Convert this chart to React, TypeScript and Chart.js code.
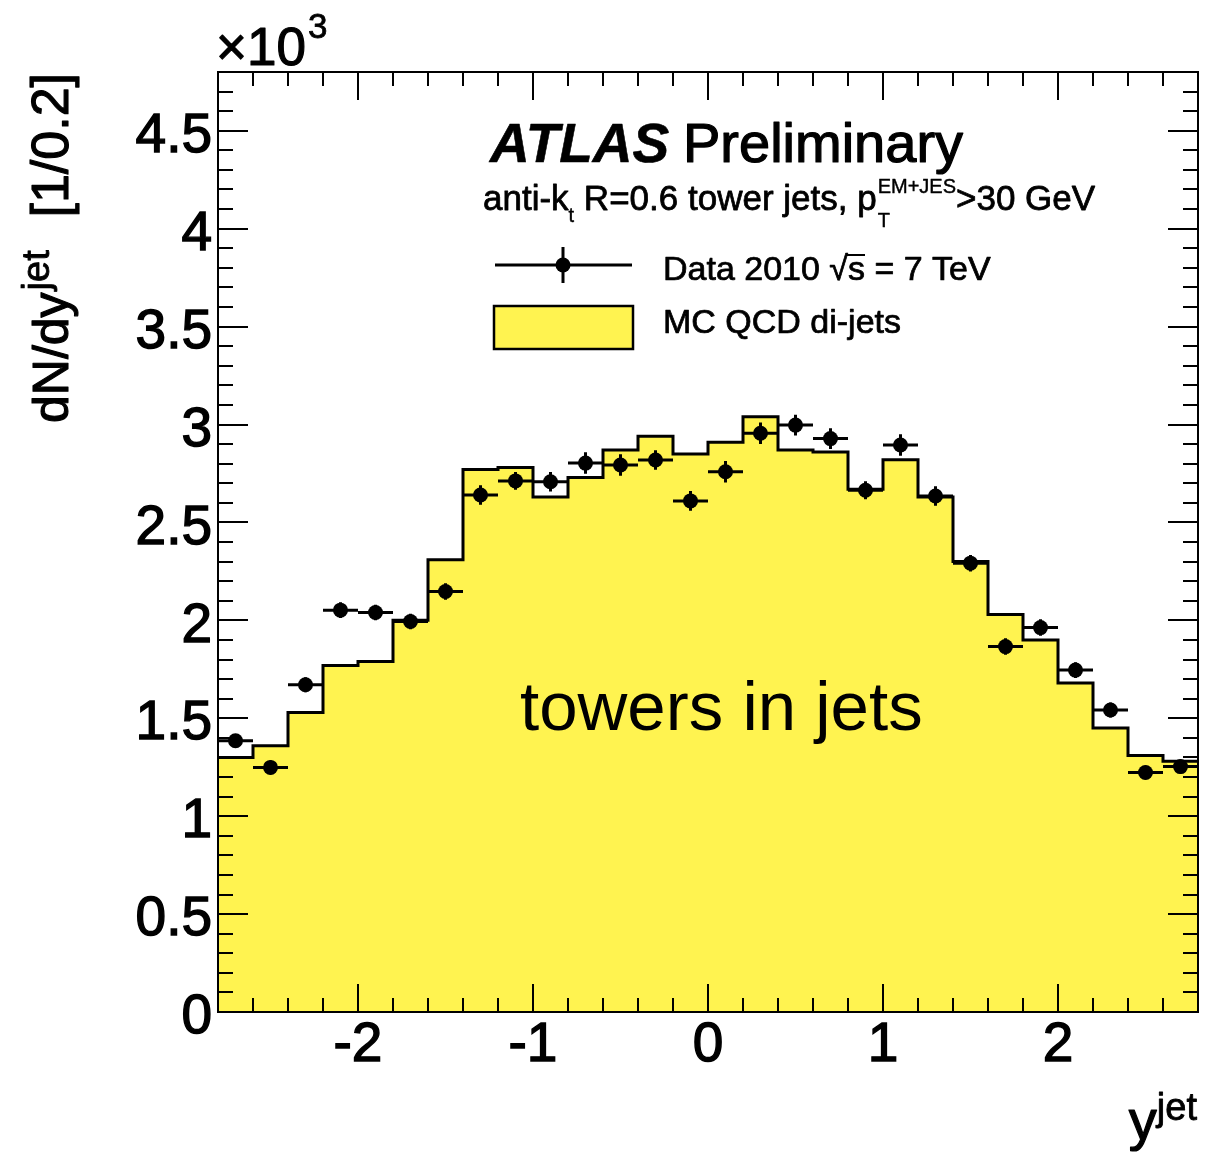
import React, { useEffect, useRef } from "react";
import { Chart, registerables } from "chart.js";

Chart.register(...registerables);

// ---------------- data (values in units of 10^3) ----------------
const BIN_CENTERS = [
  -2.7, -2.5, -2.3, -2.1, -1.9, -1.7, -1.5, -1.3, -1.1, -0.9, -0.7, -0.5, -0.3, -0.1,
  0.1, 0.3, 0.5, 0.7, 0.9, 1.1, 1.3, 1.5, 1.7, 1.9, 2.1, 2.3, 2.5, 2.7,
];
const BIN_HALF_WIDTH = 0.1;

const MC_VALUES = [
  1.30, 1.36, 1.53, 1.77, 1.79, 2.0, 2.31, 2.77, 2.78, 2.63, 2.73, 2.87, 2.94, 2.85,
  2.91, 3.04, 2.87, 2.86, 2.67, 2.82, 2.63, 2.30, 2.03, 1.90, 1.68, 1.45, 1.31, 1.28,
];

const DATA_VALUES = [
  1.385, 1.249, 1.671, 2.052, 2.04, 1.994, 2.147, 2.64, 2.712, 2.708, 2.803, 2.793, 2.819, 2.61,
  2.759, 2.955, 2.997, 2.928, 2.664, 2.895, 2.635, 2.292, 1.866, 1.963, 1.746, 1.542, 1.223, 1.253,
];

const DATA_ERRORS = [
  0.035, 0.035, 0.038, 0.04, 0.04, 0.04, 0.042, 0.05, 0.045, 0.05, 0.055, 0.055, 0.05, 0.05,
  0.055, 0.055, 0.053, 0.053, 0.046, 0.055, 0.05, 0.042, 0.042, 0.042, 0.04, 0.038, 0.035, 0.035,
];

const X_TICKS = [-2, -1, 0, 1, 2];
const Y_TICKS = [0, 0.5, 1, 1.5, 2, 2.5, 3, 3.5, 4, 4.5];
const X_MIN = -2.8;
const X_MAX = 2.8;
const Y_MIN = 0;
const Y_MAX = 4.8;
const X_MINOR_STEP = 0.2;
const Y_MINOR_STEP = 0.1;

// ---------------- layout / style ----------------
const W = 1214;
const H = 1153;
const FRAME = { left: 218, top: 72, right: 1198, bottom: 1012 };
const YELLOW = "#FFF350";
const FAMILY = "'Liberation Sans', Arial, Helvetica, sans-serif";
const font = (size: number, style = "") => `${style} ${size}px ${FAMILY}`.trim();

// draws text (filled + thin outline to mimic the heavier rendering); returns the end x
function run(
  ctx: CanvasRenderingContext2D,
  text: string,
  x: number,
  y: number,
  size: number,
  style = "",
  strokeFactor = 0.022
) {
  ctx.font = font(size, style);
  ctx.fillText(text, x, y);
  if (strokeFactor > 0) {
    ctx.save();
    ctx.lineWidth = size * strokeFactor;
    ctx.lineJoin = "round";
    ctx.strokeText(text, x, y);
    ctx.restore();
  }
  return x + ctx.measureText(text).width;
}

const frameAndTicks = {
  id: "frameAndTicks",
  afterDatasetsDraw(chart: any) {
    const { ctx, chartArea: a, scales } = chart;
    const xs = scales.x;
    const ys = scales.y;
    ctx.save();
    ctx.strokeStyle = "#000";
    ctx.lineCap = "butt";

    // error bars of data
    ctx.lineWidth = 3;
    ctx.beginPath();
    DATA_VALUES.forEach((v, i) => {
      const c = BIN_CENTERS[i];
      const px = xs.getPixelForValue(c);
      const py = ys.getPixelForValue(v);
      ctx.moveTo(xs.getPixelForValue(c - BIN_HALF_WIDTH), py);
      ctx.lineTo(xs.getPixelForValue(c + BIN_HALF_WIDTH), py);
      ctx.moveTo(px, ys.getPixelForValue(v - DATA_ERRORS[i]));
      ctx.lineTo(px, ys.getPixelForValue(v + DATA_ERRORS[i]));
    });
    ctx.stroke();

    // ticks on all four sides, pointing inwards
    ctx.lineWidth = 2;
    ctx.beginPath();
    const nx = Math.round((X_MAX - X_MIN) / X_MINOR_STEP);
    for (let k = 1; k < nx; k++) {
      const v = X_MIN + k * X_MINOR_STEP;
      const major = Math.abs(v - Math.round(v)) < 1e-6;
      const len = major ? 28 : 14;
      const px = Math.round(xs.getPixelForValue(v));
      ctx.moveTo(px, a.bottom);
      ctx.lineTo(px, a.bottom - len);
      ctx.moveTo(px, a.top);
      ctx.lineTo(px, a.top + len);
    }
    const ny = Math.round((Y_MAX - Y_MIN) / Y_MINOR_STEP);
    for (let k = 1; k < ny; k++) {
      const v = Y_MIN + k * Y_MINOR_STEP;
      const major = Math.abs(v * 2 - Math.round(v * 2)) < 1e-6;
      const len = major ? 30 : 15;
      const py = Math.round(ys.getPixelForValue(v));
      ctx.moveTo(a.left, py);
      ctx.lineTo(a.left + len, py);
      ctx.moveTo(a.right, py);
      ctx.lineTo(a.right - len, py);
    }
    ctx.stroke();

    // frame
    ctx.lineWidth = 2;
    ctx.strokeRect(a.left, a.top, a.right - a.left, a.bottom - a.top);
    ctx.restore();
  },
  afterDraw(chart: any) {
    const ctx: CanvasRenderingContext2D = chart.ctx;
    ctx.save();
    ctx.fillStyle = "#000";
    ctx.strokeStyle = "#000";
    ctx.textAlign = "left";
    ctx.textBaseline = "alphabetic";

    // x10^3 multiplier
    let xx = run(ctx, "×10", 216, 65, 53);
    run(ctx, "3", xx + 2, 38, 35);

    // y axis title (rotated, reads bottom to top)
    ctx.save();
    ctx.translate(68, 0);
    ctx.rotate(-Math.PI / 2);
    let lx = run(ctx, "dN/dy", -423, 0, 50);
    run(ctx, "jet", lx + 2, -19, 38);
    ctx.font = font(52);
    const bw = ctx.measureText("[1/0.2]").width;
    run(ctx, "[1/0.2]", -73 - bw, 0, 52);
    ctx.restore();

    // x axis title
    ctx.font = font(38);
    const jw = ctx.measureText("jet").width;
    ctx.font = font(56);
    const yw = ctx.measureText("y").width;
    xx = run(ctx, "y", 1197 - jw - yw, 1139, 56);
    run(ctx, "jet", xx, 1120, 38);

    // ATLAS Preliminary
    run(ctx, "ATLAS", 490, 162, 55, "italic bold", 0.01);
    run(ctx, "Preliminary", 683, 162, 56);

    // subtitle
    xx = run(ctx, "anti-k", 483, 210, 35);
    xx = run(ctx, "t", xx, 222, 20);
    xx = run(ctx, " R=0.6 tower jets, p", xx, 210, 35);
    const e1 = run(ctx, "T", xx + 1, 227, 20);
    const e2 = run(ctx, "EM+JES", xx + 1, 193, 20);
    run(ctx, ">30 GeV", Math.max(e1, e2), 210, 35);

    // legend: data
    ctx.lineWidth = 3;
    ctx.beginPath();
    ctx.moveTo(495, 265);
    ctx.lineTo(632, 265);
    ctx.moveTo(563, 247);
    ctx.lineTo(563, 283);
    ctx.stroke();
    ctx.beginPath();
    ctx.arc(563, 265, 7.5, 0, Math.PI * 2);
    ctx.fill();
    ctx.font = font(34);
    const preW = ctx.measureText("Data 2010 √").width;
    const sW = ctx.measureText("s").width;
    run(ctx, "Data 2010 √s = 7 TeV", 663, 280, 34);
    ctx.lineWidth = 2;
    ctx.beginPath();
    ctx.moveTo(663 + preW - 1, 255);
    ctx.lineTo(663 + preW + sW, 255);
    ctx.stroke();

    // legend: MC
    ctx.fillStyle = YELLOW;
    ctx.fillRect(494, 306, 139, 43);
    ctx.lineWidth = 2.5;
    ctx.strokeRect(494, 306, 139, 43);
    ctx.fillStyle = "#000";
    run(ctx, "MC QCD di-jets", 663, 333, 34);

    // annotation
    run(ctx, "towers in jets", 520, 730, 69, "", 0);

    ctx.restore();
  },
};

export default function App() {
  const ref = useRef<HTMLCanvasElement | null>(null);

  useEffect(() => {
    if (!ref.current) return;
    const mcData = BIN_CENTERS.map((c, i) => ({ x: c - BIN_HALF_WIDTH, y: MC_VALUES[i] }));
    mcData.push({
      x: BIN_CENTERS[BIN_CENTERS.length - 1] + BIN_HALF_WIDTH,
      y: MC_VALUES[MC_VALUES.length - 1],
    });
    const pts = BIN_CENTERS.map((c, i) => ({ x: c, y: DATA_VALUES[i] }));

    const tickFont = { family: FAMILY, size: 55 };
    const chart = new Chart(ref.current, {
      type: "line",
      data: {
        datasets: [
          {
            label: "Data 2010",
            data: pts,
            showLine: false,
            pointRadius: 7.5,
            pointHoverRadius: 7.5,
            pointBackgroundColor: "#000",
            pointBorderWidth: 0,
            borderColor: "#000",
            order: 1,
          },
          {
            label: "MC QCD di-jets",
            data: mcData,
            stepped: "before",
            fill: "origin",
            backgroundColor: YELLOW,
            borderColor: "#000",
            borderWidth: 3,
            pointRadius: 0,
            order: 2,
          },
        ],
      } as any,
      options: {
        responsive: false,
        animation: false,
        devicePixelRatio: 1,
        layout: { padding: { left: 0, top: FRAME.top, right: W - FRAME.right, bottom: 0 } },
        plugins: { legend: { display: false }, tooltip: { enabled: false } },
        events: [],
        scales: {
          x: {
            type: "linear",
            min: X_MIN,
            max: X_MAX,
            grid: { display: false, drawTicks: false },
            border: { display: false },
            ticks: {
              color: "#000",
              font: tickFont,
              textStrokeColor: "#000",
              textStrokeWidth: 1.4,
              padding: 1,
              maxRotation: 0,
              autoSkip: false,
              callback: (v: any) => String(Number(v)),
            },
            afterBuildTicks: (s: any) => {
              s.ticks = X_TICKS.map((v) => ({ value: v }));
            },
            afterFit: (s: any) => {
              s.height = H - FRAME.bottom;
            },
          },
          y: {
            type: "linear",
            min: Y_MIN,
            max: Y_MAX,
            grid: { display: false, drawTicks: false },
            border: { display: false },
            ticks: {
              color: "#000",
              font: tickFont,
              textStrokeColor: "#000",
              textStrokeWidth: 1.4,
              padding: 6,
              labelOffset: 6,
              autoSkip: false,
              callback: (v: any) => String(Number(v)),
            },
            afterBuildTicks: (s: any) => {
              s.ticks = Y_TICKS.map((v) => ({ value: v }));
            },
            afterFit: (s: any) => {
              s.width = FRAME.left;
            },
          },
        },
      } as any,
      plugins: [frameAndTicks],
    });
    return () => chart.destroy();
  }, []);

  return (
    <div style={{ position: "absolute", left: 0, top: 0, width: W, height: H, background: "#fff" }}>
      <canvas ref={ref} width={W} height={H} style={{ width: W, height: H, display: "block" }} />
    </div>
  );
}
